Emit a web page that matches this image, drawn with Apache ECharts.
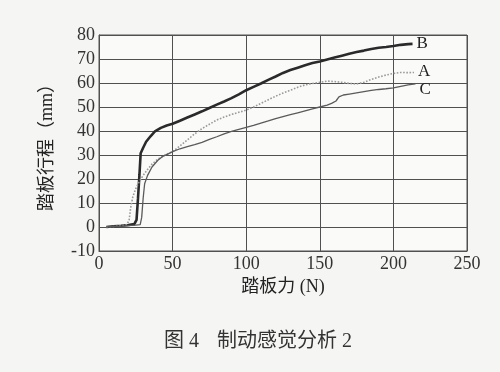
<!DOCTYPE html>
<html><head><meta charset="utf-8">
<script src="https://cdn.jsdelivr.net/npm/echarts@6/dist/echarts.min.js"></script>
<style>html,body{margin:0;padding:0;background:#f5f5f3}#c{width:500px;height:372px}</style>
</head><body><div id="c"></div>
<script>
const xTicks = [0, 50, 100, 150, 200, 250];
const yTicks = [-10, 0, 10, 20, 30, 40, 50, 60, 70, 80];
const seriesNames = ['B', 'A', 'C'];
const dataB = [[5,0],[10,0.3],[15,0.5],[20,0.8],[24,1.2],[25.5,3],[26.5,12],[27.5,22],[28.3,30.7],[30,33],[32,35.5],[35,37.8],[38,39.8],[42,41.3],[46,42.3],[50,43],[55,44.3],[60,45.6],[65,46.9],[70,48.2],[75,49.6],[80,51],[85,52.3],[90,53.7],[95,55.3],[100,57],[105,58.4],[110,59.8],[115,61.3],[120,62.7],[125,64.2],[130,65.4],[135,66.4],[140,67.4],[145,68.3],[150,69],[155,69.8],[160,70.6],[165,71.4],[170,72.2],[175,72.9],[180,73.5],[185,74.2],[190,74.7],[195,75],[200,75.4],[205,75.9],[210,76.2],[213,76.3]];
const dataA = [[5,0],[10,0.2],[15,0.5],[19,1],[20.5,3],[21.5,8],[23,12.6],[25,16],[27,18.5],[30,21.5],[33,24],[36,26.2],[40,28.3],[45,30],[50,31.4],[55,33.8],[60,36.3],[65,38.8],[70,41],[75,42.8],[80,44.6],[85,45.8],[90,46.9],[95,47.8],[100,48.7],[105,50],[110,51.5],[115,53],[120,54.5],[125,55.8],[130,57],[135,58.2],[140,59.2],[145,59.8],[150,60.3],[155,60.8],[160,60.6],[165,60.3],[170,59.8],[175,59.6],[180,60.3],[185,61.5],[190,62.5],[195,63.3],[200,64],[205,64.4],[210,64.3],[214,64.4]];
const dataC = [[5,0],[10,0.2],[15,0.4],[20,0.6],[25,0.8],[28,1],[29,4],[30,12],[31,18],[33,21.5],[36,25],[40,27.8],[43,29.3],[47,30.5],[50,31.4],[55,32.6],[60,33.5],[65,34.3],[70,35.3],[75,36.5],[80,37.6],[85,38.8],[90,39.8],[95,40.7],[100,41.5],[105,42.3],[110,43.3],[115,44.2],[120,45.2],[125,46],[130,46.8],[135,47.6],[140,48.4],[145,49.2],[150,50],[155,50.8],[158,51.5],[161,52.5],[163,54.2],[166,55],[170,55.4],[175,55.9],[180,56.4],[185,56.9],[190,57.3],[195,57.6],[200,58],[205,58.6],[210,59.2],[215,59.6]];

const FONT = '"Liberation Serif", "Noto Sans CJK SC", serif';
const chart = echarts.init(document.getElementById('c'));
const gridColor = '#505050';
function mk(name, data, color, width, type, offset) {
  return {
    name: name, type: 'line', data: data, symbol: 'none', smooth: false,
    lineStyle: { color: color, width: width, type: type },
    endLabel: { show: true, formatter: '{a}', color: '#222', fontFamily: FONT, fontSize: 17, distance: 4, offset: offset },
    animation: false
  };
}
chart.setOption({
  backgroundColor: '#f5f5f3',
  animation: false,
  grid: { left: 99, top: 35, width: 368, height: 216, show: true, backgroundColor: '#fafaf9', borderColor: gridColor, borderWidth: 1 },
  xAxis: {
    type: 'value', min: xTicks[0], max: xTicks[xTicks.length - 1], interval: 50,
    name: '踏板力 (N)', nameLocation: 'middle', nameGap: 23,
    nameTextStyle: { fontFamily: FONT, fontSize: 18, color: '#222' },
    axisLine: { onZero: false, lineStyle: { color: gridColor } },
    axisTick: { show: false },
    axisLabel: { fontFamily: FONT, fontSize: 18, color: '#333', margin: 4 },
    splitLine: { show: true, lineStyle: { color: gridColor, width: 1 } }
  },
  yAxis: {
    type: 'value', min: yTicks[0], max: yTicks[yTicks.length - 1], interval: 10,
    name: '踏板行程（mm）', nameLocation: 'middle', nameGap: 43, nameRotate: 90,
    nameTextStyle: { fontFamily: FONT, fontSize: 18, color: '#222' },
    axisLine: { show: true, lineStyle: { color: gridColor } },
    axisTick: { show: false },
    axisLabel: { fontFamily: FONT, fontSize: 18, color: '#333', margin: 4 },
    splitLine: { show: true, lineStyle: { color: gridColor, width: 1 } }
  },
  series: [
    mk(seriesNames[0], dataB, '#2a2a2a', 2.6, 'solid', [0, 0]),
    mk(seriesNames[1], dataA, '#9a9a9a', 1.6, 'dotted', [0, -1]),
    mk(seriesNames[2], dataC, '#5a5a5a', 1.3, 'solid', [0, 6])
  ],
  graphic: [
    { type: 'text', left: 164, top: 332, style: { text: '图 4', fontFamily: FONT, fontSize: 20, fill: '#333' } },
    { type: 'text', left: 217, top: 332, style: { text: '制动感觉分析 2', fontFamily: FONT, fontSize: 20, fill: '#333' } }
  ]
});
</script></body></html>
